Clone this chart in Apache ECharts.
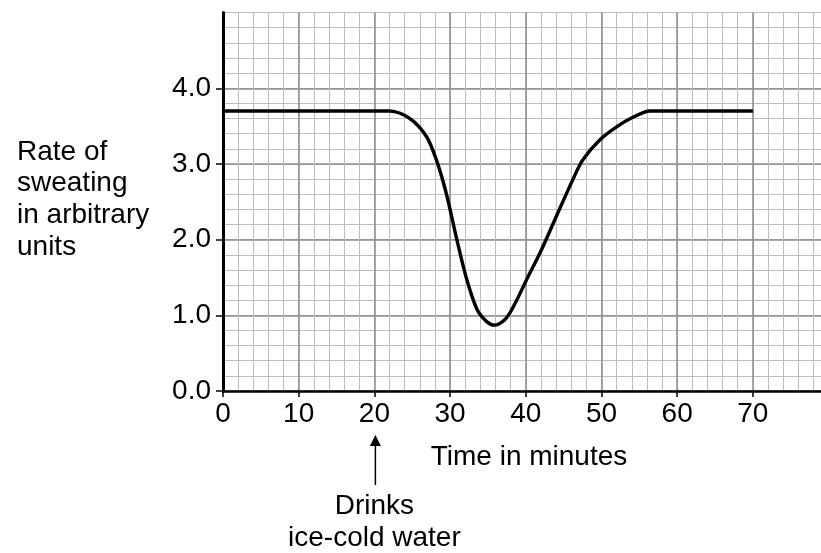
<!DOCTYPE html>
<html>
<head>
<meta charset="utf-8">
<script src="https://cdn.jsdelivr.net/npm/echarts@6/dist/echarts.min.js"></script>
<style>
html,body{margin:0;padding:0;background:#fff;}
#chart{width:821px;height:553px;}
</style>
</head>
<body>
<div id="chart"></div>
<script>
// Data
var times  = [0, 20, 22, 24.7, 26.9, 28.2, 29.5, 30.8, 32.1, 33.5, 34.8, 35.9, 37.4, 38.8, 40.1, 42.0, 44.0, 46.2, 47.5, 49.8, 52.0, 54.2, 56.4, 58, 70];
var rates  = [3.7, 3.7, 3.7, 3.60, 3.36, 3.05, 2.61, 2.04, 1.51, 1.09, 0.92, 0.87, 0.96, 1.20, 1.47, 1.85, 2.30, 2.79, 3.05, 3.32, 3.49, 3.62, 3.70, 3.7, 3.7];
var xTickLabels = [0, 10, 20, 30, 40, 50, 60, 70];
var yTickLabels = [0, 1, 2, 3, 4];
var xTitle = 'Time in minutes';
var yTitleLines = ['Rate of', 'sweating', 'in arbitrary', 'units'];
var noteLines = ['Drinks', 'ice-cold water'];
var noteTime = 20;

var FONT = 'Liberation Sans, Arial, sans-serif';
var chart = echarts.init(document.getElementById('chart'), null, {renderer: 'canvas'});

var seriesData = times.map(function (t, i) { return [t, rates[i]]; });

var option = {
  backgroundColor: '#ffffff',
  animation: false,
  grid: {left: 223, top: 12.6, width: 598, height: 378.4, outerBoundsMode: 'none'},
  xAxis: [
    { // minor grid
      type: 'value', min: 0, max: 79, interval: 2,
      axisLine: {show: false}, axisTick: {show: false}, axisLabel: {show: false},
      splitLine: {show: true, lineStyle: {color: '#bdbdbd', width: 1}}
    },
    { // major axis
      type: 'value', min: 0, max: 79, interval: 10, position: 'bottom',
      axisLine: {show: true, onZero: false, lineStyle: {color: '#000', width: 2.5}},
      axisTick: {show: true, length: 6, lineStyle: {color: '#000', width: 1.5}, customValues: xTickLabels},
      axisLabel: {show: true, margin: 9, color: '#000', fontSize: 28, fontFamily: FONT, customValues: xTickLabels},
      splitLine: {show: true, lineStyle: {color: '#8c8c8c', width: 1.5}}
    }
  ],
  yAxis: [
    {
      type: 'value', min: 0, max: 5, interval: 0.2,
      axisLine: {show: false}, axisTick: {show: false}, axisLabel: {show: false},
      splitLine: {show: true, lineStyle: {color: '#bdbdbd', width: 1}}
    },
    {
      type: 'value', min: 0, max: 5, interval: 1, position: 'left',
      axisLine: {show: true, onZero: false, lineStyle: {color: '#000', width: 3}},
      axisTick: {show: true, length: 7, lineStyle: {color: '#000', width: 1.5}, customValues: yTickLabels},
      axisLabel: {show: true, margin: 12, color: '#000', fontSize: 28, fontFamily: FONT, customValues: yTickLabels,
        formatter: function (v) { return v.toFixed(1); }},
      splitLine: {show: true, lineStyle: {color: '#8c8c8c', width: 1.5}}
    }
  ],
  series: [{
    type: 'line', xAxisIndex: 1, yAxisIndex: 1,
    data: seriesData, smooth: 0.3, showSymbol: false, symbol: 'none',
    lineStyle: {color: '#000', width: 3.4}, z: 10
  }]
};
chart.setOption(option);

var ax = chart.convertToPixel({xAxisIndex: 1}, noteTime);
var graphics = [];
graphics.push({type: 'text', x: 529, y: 457, style: {text: xTitle, fill: '#000', font: '28px ' + FONT, align: 'center', verticalAlign: 'middle'}});
yTitleLines.forEach(function (s, i) {
  graphics.push({type: 'text', x: 17, y: 152 + i * 31.7, style: {text: s, fill: '#000', font: '28px ' + FONT, align: 'left', verticalAlign: 'middle'}});
});
noteLines.forEach(function (s, i) {
  graphics.push({type: 'text', x: ax, y: 506 + i * 32, style: {text: s, fill: '#000', font: '28px ' + FONT, align: 'center', verticalAlign: 'middle'}});
});
graphics.push({type: 'line', shape: {x1: ax + 1, y1: 444, x2: ax + 1, y2: 485}, style: {stroke: '#000', lineWidth: 1.5}});
graphics.push({type: 'polygon', shape: {points: [[ax + 1, 435], [ax - 4.5, 446], [ax + 6.5, 446]]}, style: {fill: '#000'}});
chart.setOption({graphic: graphics});
</script>
</body>
</html>
